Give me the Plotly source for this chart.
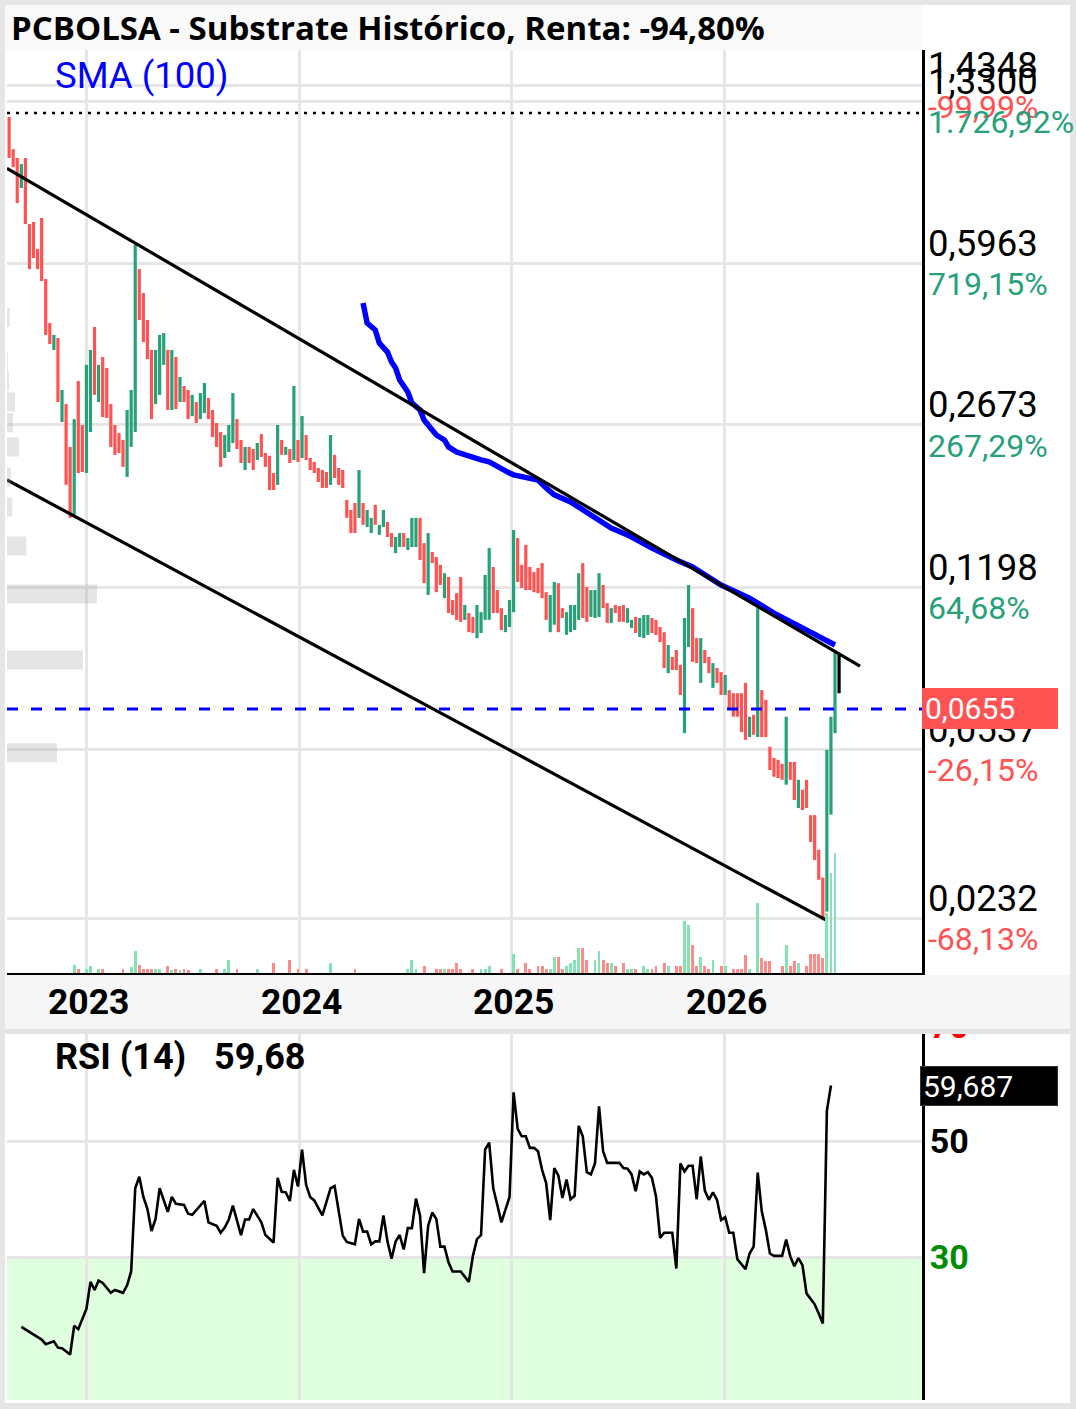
import numpy as np
import pandas as pd
import plotly.graph_objects as go

W, H = 1076, 1409

# ---------------- DATA ----------------
dates = pd.date_range('2022-08-20', periods=205, freq='7D')

high = [1.229, 1.048, 1.003, 0.9733, 1.003, 0.7231, 0.7305, 0.6389, 0.7451, 0.5507,
        0.4429, 0.4176, 0.4112, 0.3179, 0.2965, 0.2398, 0.2752, 0.3323, 0.2673, 0.3600,
        0.3875, 0.4343, 0.3600, 0.3743, 0.3544, 0.2965, 0.2673, 0.2568, 0.2482, 0.2879,
        0.3179, 0.6523, 0.5786, 0.5138, 0.4496, 0.3875, 0.3875, 0.4176, 0.4215, 0.3875,
        0.3875, 0.3743, 0.3391, 0.3243, 0.3179, 0.3103, 0.2995, 0.3131, 0.3290, 0.3055,
        0.2879, 0.2699, 0.2581, 0.2544, 0.2673, 0.3131, 0.2752, 0.2482, 0.2398, 0.2398,
        0.2373, 0.2445, 0.2555, 0.2327, 0.2294, 0.2107, 0.2673, 0.2482, 0.2398, 0.2373,
        0.3243, 0.2482, 0.2795, 0.2544, 0.2270, 0.2226, 0.2160, 0.2139, 0.2118, 0.2544,
        0.2305, 0.2160, 0.2139, 0.1844, 0.1755, 0.1816, 0.2139, 0.1816, 0.1755, 0.1687,
        0.1800, 0.1630, 0.1755, 0.1653, 0.1565, 0.1535, 0.1565, 0.1565, 0.1527, 0.1687,
        0.1687, 0.1687, 0.1489, 0.1565, 0.1425, 0.1390, 0.1337, 0.1283, 0.1259, 0.1123,
        0.1162, 0.1259, 0.1096, 0.1053, 0.1033, 0.1096, 0.1058, 0.1272, 0.1453, 0.1323,
        0.1180, 0.1079, 0.1043, 0.1123, 0.1589, 0.1527, 0.1337, 0.1476, 0.1323, 0.1290,
        0.1317, 0.1349, 0.1168, 0.1152, 0.1228, 0.1221, 0.1079, 0.1058, 0.1096, 0.1096,
        0.1283, 0.1349, 0.1198, 0.1180, 0.1180, 0.1283, 0.1210, 0.1106, 0.1079, 0.1096,
        0.1090, 0.1096, 0.1079, 0.1018, 0.1033, 0.1028, 0.1043, 0.1043, 0.1028, 0.1018,
        0.0983, 0.0958, 0.0899, 0.0847, 0.0877, 0.0815, 0.1028, 0.1210, 0.1079, 0.0930,
        0.0930, 0.0877, 0.0847, 0.0822, 0.0802, 0.0786, 0.0775, 0.0719, 0.0708, 0.0708,
        0.0708, 0.0745, 0.0630, 0.0636, 0.1079, 0.0719, 0.0685, 0.0543, 0.0514, 0.0509,
        0.0499, 0.0630, 0.0504, 0.0504, 0.0461, 0.0439, 0.0461, 0.0387, 0.0387, 0.0326,
        0.0284, 0.0535, 0.0630, 0.0864, 0.0856]

low = [1.003, 0.959, 0.8025, 0.8644, 0.7231, 0.5786, 0.6112, 0.5786, 0.5454, 0.4176,
       0.3991, 0.3875, 0.2995, 0.2713, 0.1987, 0.1687, 0.1713, 0.2107, 0.2118, 0.2107,
       0.2581, 0.3103, 0.2995, 0.2781, 0.2767, 0.2398, 0.2305, 0.2327, 0.2172, 0.2066,
       0.2398, 0.2581, 0.4496, 0.4031, 0.3705, 0.2752, 0.2965, 0.3103, 0.3600, 0.2879,
       0.2879, 0.2892, 0.2995, 0.2995, 0.2752, 0.2795, 0.2699, 0.2752, 0.2836, 0.2752,
       0.2518, 0.2398, 0.2172, 0.2270, 0.2338, 0.2445, 0.2373, 0.2214, 0.2139, 0.2214,
       0.2139, 0.2248, 0.2282, 0.2172, 0.1937, 0.1937, 0.1987, 0.2305, 0.2305, 0.2214,
       0.2248, 0.2226, 0.2270, 0.2248, 0.2139, 0.2107, 0.2016, 0.1957, 0.1957, 0.1987,
       0.2056, 0.1987, 0.1957, 0.1687, 0.1565, 0.1565, 0.1687, 0.1630, 0.1613, 0.1565,
       0.1630, 0.1551, 0.1613, 0.1535, 0.1461, 0.1417, 0.1461, 0.1461, 0.1439, 0.1461,
       0.1461, 0.1370, 0.1221, 0.1152, 0.1349, 0.1168, 0.1210, 0.1134, 0.1053, 0.1043,
       0.1018, 0.1008, 0.1018, 0.0958, 0.0954, 0.0930, 0.0954, 0.1018, 0.1018, 0.1053,
       0.1053, 0.0968, 0.0958, 0.0983, 0.1058, 0.1228, 0.1192, 0.1180, 0.1180, 0.1168,
       0.1162, 0.1134, 0.1018, 0.0958, 0.0994, 0.0958, 0.1028, 0.0945, 0.0958, 0.0968,
       0.1018, 0.1028, 0.1008, 0.1033, 0.1028, 0.1033, 0.1079, 0.1003, 0.1003, 0.1053,
       0.1008, 0.1008, 0.1003, 0.0978, 0.0954, 0.0935, 0.0930, 0.0945, 0.0954, 0.0945,
       0.0912, 0.0802, 0.0782, 0.0794, 0.0794, 0.0702, 0.0581, 0.0890, 0.0827, 0.0822,
       0.0745, 0.0822, 0.0782, 0.0727, 0.0745, 0.0702, 0.0702, 0.0652, 0.0630, 0.0630,
       0.0584, 0.0562, 0.0570, 0.0576, 0.0570, 0.0570, 0.0570, 0.0484, 0.0468, 0.0465,
       0.0461, 0.0450, 0.0461, 0.0417, 0.0401, 0.0397, 0.0401, 0.0339, 0.0310, 0.0281,
       0.0230, 0.0240, 0.0388, 0.0581, 0.0708]

# u = close above open, d = close below open, n = current (unfinished) bar
direction = ("dddudddddd dududduddu ududdddddu uudddduuud ududduduud "
             "ddduuuddud duddddudud ududdddddu dddddduduu duudduuduu "
             "uddudddudd ddudduuuud dduuuddddd ddduudduuu udduuuddud "
             "dduuduuudd dduddduudd uddudduddd ddududdddd dudduddddd "
             "duuun").replace(' ', '')

volume = [0, 0, 0, 0, 0, 0, 0, 0, 0, 0,
          0, 0, 0, 0, 0, 0, 8, 4, 0, 4,
          7, 0, 4, 4, 0, 0, 0, 0, 4, 0,
          6, 22, 8, 4, 4, 4, 4, 4, 0, 7,
          3, 4, 3, 4, 3, 0, 0, 4, 0, 0,
          0, 4, 0, 4, 13, 0, 4, 0, 0, 0,
          0, 4, 0, 0, 0, 10, 0, 0, 0, 13,
          0, 4, 0, 4, 0, 0, 0, 0, 0, 10,
          0, 0, 0, 0, 0, 4, 0, 0, 0, 0,
          0, 0, 0, 0, 0, 0, 0, 0, 4, 13,
          4, 0, 7, 0, 0, 4, 4, 4, 4, 4,
          10, 4, 0, 0, 4, 0, 4, 4, 7, 0,
          0, 4, 0, 0, 19, 4, 0, 10, 4, 0,
          7, 7, 4, 4, 16, 16, 4, 7, 10, 13,
          25, 25, 13, 0, 13, 22, 13, 10, 10, 7,
          0, 10, 4, 4, 4, 0, 7, 4, 4, 7,
          0, 10, 7, 0, 7, 7, 52, 48, 28, 7,
          16, 7, 4, 13, 0, 7, 7, 0, 4, 4,
          4, 18, 4, 0, 70, 15, 12, 12, 0, 0,
          7, 28, 7, 12, 10, 0, 7, 19, 19, 19,
          15, 60, 100, 120, 0]

rsi_week = [3, 6, 8, 9, 11, 12, 13, 15, 16, 17, 19, 20, 21, 22, 23, 25, 26, 28, 29, 30,
            31, 32, 33, 34, 35, 36, 37, 39, 40, 41, 43, 44, 45, 48, 49, 51, 52, 53, 54, 55,
            57, 58, 59, 60, 62, 63, 65, 66, 67, 68, 69, 70, 71, 72, 73, 74, 75, 77, 79, 80,
            81, 82, 83, 85, 86, 87, 88, 89, 90, 91, 92, 93, 94, 95, 96, 97, 98, 99, 100, 101,
            102, 103, 104, 105, 106, 107, 108, 109, 111, 113, 114, 115, 116, 117, 118, 119, 120, 121, 123, 124,
            125, 126, 127, 128, 129, 130, 131, 132, 133, 134, 135, 136, 137, 138, 139, 140, 141, 142, 143, 144,
            145, 146, 147, 150, 151, 152, 153, 154, 155, 156, 157, 158, 159, 160, 161, 163, 164, 165, 166, 167,
            168, 169, 170, 171, 172, 173, 174, 175, 176, 177, 178, 179, 181, 182, 183, 184, 185, 186, 187, 188,
            190, 191, 192, 193, 194, 195, 196, 197, 198, 199, 200, 201, 202]
rsi_value = [17.9, 16.5, 15.7, 14.9, 15.4, 14.3, 14.2, 13.1, 18.1, 17.5, 21.0, 25.7, 24.3, 25.9, 25.5, 23.8, 24.3, 23.8, 25.1, 27.5,
             41.9, 43.9, 40.4, 38.3, 34.5, 36.6, 41.9, 37.8, 40.4, 39.2, 39.0, 37.5, 37.3, 39.7, 36.0, 35.4, 34.2, 35.1, 36.5, 38.9,
             33.8, 36.5, 36.5, 38.3, 36.0, 33.8, 32.5, 43.7, 41.3, 41.2, 39.7, 45.1, 42.2, 48.6, 42.5, 40.4, 39.8, 37.2, 41.9, 42.3,
             38.3, 33.7, 32.6, 32.2, 36.6, 34.4, 34.4, 32.2, 32.7, 32.7, 37.2, 32.7, 29.7, 32.7, 33.8, 31.3, 35.0, 35.0, 40.1, 37.2,
             27.2, 35.4, 37.7, 36.6, 31.8, 31.8, 29.1, 27.5, 27.5, 25.7, 30.2, 33.1, 33.8, 48.6, 49.8, 41.9, 39.0, 36.0, 40.4, 58.5,
             52.2, 50.9, 50.9, 48.9, 48.9, 48.3, 45.1, 42.8, 36.4, 45.4, 44.1, 40.2, 43.4, 40.0, 40.6, 52.7, 50.9, 44.7, 44.3, 46.2,
             56.1, 48.3, 46.3, 46.3, 45.4, 45.3, 44.3, 41.4, 44.8, 44.3, 44.7, 43.7, 40.5, 33.3, 34.2, 34.2, 28.0, 46.2, 44.8, 45.8,
             45.8, 40.0, 47.4, 41.5, 39.9, 41.2, 39.9, 36.4, 36.9, 34.2, 34.2, 29.6, 27.9, 30.6, 31.8, 44.6, 37.9, 34.7, 30.6, 30.2,
             30.2, 33.0, 30.1, 28.4, 29.8, 28.6, 23.7, 22.8, 21.8, 20.2, 18.5, 55.3, 59.7]

sma_week = [87, 88, 90, 91, 93, 94, 95, 96, 98, 99, 101, 102, 104, 105, 107, 108, 110, 112, 114, 116,
            118, 120, 123, 124, 127, 130, 132, 134, 138, 141, 143, 145, 148, 152, 155, 158, 164, 168, 175, 182,
            188, 193, 197, 203]
sma_value = [0.4890, 0.4429, 0.4279, 0.4011, 0.3836, 0.3651, 0.3544, 0.3340, 0.3147, 0.2980,
             0.2879, 0.2740, 0.2607, 0.2544, 0.2482, 0.2398, 0.2338, 0.2305, 0.2270, 0.2248,
             0.2226, 0.2172, 0.2107, 0.2088, 0.2066, 0.2036, 0.1957, 0.1891, 0.1826, 0.1755,
             0.1713, 0.1670, 0.1605, 0.1551, 0.1497, 0.1453, 0.1370, 0.1323, 0.1210, 0.1134,
             0.1053, 0.1003, 0.0958, 0.0899]

profile_price = [0.4553, 0.3657, 0.3323, 0.2995, 0.2704, 0.2398, 0.2066, 0.1781, 0.1468, 0.1157, 0.0835, 0.0527]
profile_volume = [2.6, 0.8, 2.0, 8, 6, 12, 4, 5.3, 19.3, 90, 76, 50]

trend_upper_dates = ['2022-08-16 09:00', '2026-08-23']
trend_upper_prices = [0.953, 0.0810]
trend_lower_dates = ['2022-08-16 09:00', '2026-06-26']
trend_lower_prices = [0.2036, 0.0230]

max_price = 1.2535
last_price = 0.0655
last_rsi = 59.687

price_ticks = [1.4348, 1.3300, 0.5963, 0.2673, 0.1198, 0.0537, 0.0232]
price_tick_text = ['1,4348', '1,3300', '0,5963', '0,2673', '0,1198', '0,0537', '0,0232']
pct_text = ['-99,99%', '1.726,92%', '719,15%', '267,29%', '64,68%', '-26,15%', '-68,13%']
pct_positive = [False, True, True, True, True, False, False]

year_ticks = ['2023-01-01', '2024-01-01', '2025-01-01', '2026-01-01']
year_labels = ['2023', '2024', '2025', '2026']

rsi_ticks = [30, 50, 70]

# ---------------- STYLE ----------------
GREEN = '#26a17a'
RED = '#ff5252'
VOL_GREEN = '#84e2b4'
VOL_RED = '#ff8a8a'
GRID = '#e6e6e6'
FONT = 'Roboto'

PLOT_L, PLOT_R = 7, 922
MAIN_T, MAIN_B = 50, 973
RSI_T, RSI_B = 1026, 1400
X_RANGE = ['2022-08-16 09:00', '2026-12-07 16:00']
Y_RANGE = [-1.75183, 0.23365]
RSI_RANGE = [5.238, 70]
PROFILE_HALF = 1.0482   # half height of a profile bin as a price ratio


def fx(p):
    return p / W


def fy(p):
    return (H - p) / H


fig = go.Figure()

# volume profile (left)
pxs, pys = [], []
for p, v in zip(profile_price, profile_volume):
    lo, hi = p / PROFILE_HALF, p * PROFILE_HALF
    pxs += [0, v, v, 0, 0, None]
    pys += [lo, lo, hi, hi, lo, None]
fig.add_trace(go.Scatter(x=pxs, y=pys, xaxis='x3', yaxis='y', mode='lines', fill='toself',
                         fillcolor='rgba(170,170,170,0.30)', line=dict(width=0), hoverinfo='skip'))

# candles as high-low bars
for code, col in (('u', GREEN), ('d', RED), ('n', 'black')):
    xs, ys = [], []
    for d, h, l, c in zip(dates, high, low, direction):
        if c == code:
            xs += [d, d, None]
            ys += [l, h, None]
    fig.add_trace(go.Scatter(x=xs, y=ys, mode='lines', line=dict(color=col, width=3.2),
                             xaxis='x', yaxis='y', hoverinfo='skip'))

# SMA
fig.add_trace(go.Scatter(x=[dates[i] for i in sma_week], y=sma_value, mode='lines',
                         line=dict(color='#0000ff', width=5.5), xaxis='x', yaxis='y', hoverinfo='skip'))

# trend lines
fig.add_trace(go.Scatter(x=trend_upper_dates, y=trend_upper_prices, mode='lines',
                         line=dict(color='black', width=3.2), xaxis='x', yaxis='y', hoverinfo='skip'))
fig.add_trace(go.Scatter(x=trend_lower_dates, y=trend_lower_prices, mode='lines',
                         line=dict(color='black', width=3.2), xaxis='x', yaxis='y', hoverinfo='skip'))

# max price dotted / last price dashed
fig.add_trace(go.Scatter(x=X_RANGE, y=[max_price, max_price], mode='lines',
                         line=dict(color='black', width=2.7, dash='3px,6px'), xaxis='x', yaxis='y', hoverinfo='skip'))
fig.add_trace(go.Scatter(x=X_RANGE, y=[last_price, last_price], mode='lines',
                         line=dict(color='#0000ff', width=3, dash='11px,13px'), xaxis='x', yaxis='y', hoverinfo='skip'))

# volume
vol_colors = [VOL_GREEN if c == 'u' else (VOL_RED if c == 'd' else '#cccccc') for c in direction]
fig.add_trace(go.Bar(x=dates, y=volume, marker=dict(color=vol_colors, line=dict(width=0)),
                     width=7 * 86400000 * 0.7, xaxis='x', yaxis='y3', hoverinfo='skip'))

# RSI
fig.add_trace(go.Scatter(x=[dates[i] for i in rsi_week], y=rsi_value, mode='lines',
                         line=dict(color='black', width=2.6), xaxis='x2', yaxis='y2', hoverinfo='skip'))

shapes = [
    # RSI oversold zone
    dict(type='rect', xref='x2 domain', yref='y2', x0=0, x1=1, y0=RSI_RANGE[0], y1=30,
         fillcolor='#dfffdf', line=dict(width=0), layer='below'),
    # title band
    dict(type='rect', xref='paper', yref='paper', x0=fx(5), x1=fx(PLOT_R), y0=fy(50), y1=fy(5),
         fillcolor='#f9f9f9', line=dict(width=0), layer='below'),
    # x-axis label band and separator
    dict(type='rect', xref='paper', yref='paper', x0=fx(5), x1=fx(1070), y0=fy(1029), y1=fy(975),
         fillcolor='#f6f6f6', line=dict(width=0), layer='above'),
    dict(type='rect', xref='paper', yref='paper', x0=fx(5), x1=fx(1070), y0=fy(1034), y1=fy(1029),
         fillcolor='#e4e4e4', line=dict(width=0), layer='above'),
    # outer frame
    dict(type='rect', xref='paper', yref='paper', x0=0, x1=fx(5), y0=0, y1=1,
         fillcolor='#e6e6e6', line=dict(width=0), layer='above'),
    dict(type='rect', xref='paper', yref='paper', x0=fx(1070), x1=1, y0=0, y1=1,
         fillcolor='#e6e6e6', line=dict(width=0), layer='above'),
    dict(type='rect', xref='paper', yref='paper', x0=0, x1=1, y0=fy(5), y1=1,
         fillcolor='#e6e6e6', line=dict(width=0), layer='above'),
    dict(type='rect', xref='paper', yref='paper', x0=0, x1=1, y0=0, y1=fy(1403),
         fillcolor='#e6e6e6', line=dict(width=0), layer='above'),
]

ann = []
ann.append(dict(text='PCBOLSA - Substrate Histórico, Renta: -94,80%', xref='paper', yref='paper',
                x=fx(9), y=fy(28), xanchor='left', yanchor='middle', showarrow=False,
                font=dict(family='Open Sans', size=33, color='black', weight='bold')))
ann.append(dict(text='SMA (100)', xref='paper', yref='paper', x=fx(53), y=fy(75),
                xanchor='left', yanchor='middle', showarrow=False,
                font=dict(family=FONT, size=36.5, color='#0000ff')))
ann.append(dict(text='RSI (14)', xref='paper', yref='paper', x=fx(53), y=fy(1057),
                xanchor='left', yanchor='middle', showarrow=False,
                font=dict(family=FONT, size=36, color='black', weight='bold')))
ann.append(dict(text='59,68', xref='paper', yref='paper', x=fx(212), y=fy(1057),
                xanchor='left', yanchor='middle', showarrow=False,
                font=dict(family=FONT, size=36, color='black', weight='bold')))
for t, lab in zip(year_ticks, year_labels):
    ann.append(dict(text=lab, xref='x', yref='paper', x=t, y=fy(1002), xanchor='center',
                    yanchor='middle', showarrow=False, xshift=2,
                    font=dict(family=FONT, size=35.5, color='black', weight='bold')))
for v, t, pt, pos in zip(price_ticks, price_tick_text, pct_text, pct_positive):
    ann.append(dict(text=t, xref='paper', yref='y', x=fx(926), y=np.log10(v), yshift=20,
                    xanchor='left', yanchor='middle', showarrow=False,
                    font=dict(family=FONT, size=36.5, color='black')))
    ann.append(dict(text=pt, xref='paper', yref='y', x=fx(926), y=np.log10(v), yshift=-21,
                    xanchor='left', yanchor='middle', showarrow=False,
                    font=dict(family=FONT, size=32, color=GREEN if pos else RED)))
ann.append(dict(text='0,0655', xref='paper', yref='y', x=fx(922), y=np.log10(last_price),
                xanchor='left', yanchor='middle', showarrow=False, align='left',
                width=130, height=35, borderpad=2, borderwidth=1, bordercolor=RED, bgcolor=RED,
                font=dict(family=FONT, size=30, color='white')))
ann.append(dict(text='59,687', xref='paper', yref='y2', x=fx(920), y=last_rsi,
                xanchor='left', yanchor='middle', showarrow=False, align='left',
                width=132, height=34, borderpad=2, borderwidth=1, bordercolor='#333333', bgcolor='black',
                font=dict(family=FONT, size=30, color='white')))

rsi_ticktext = ["<span style='color:#008c00'><b>30</b></span>", "<b>50</b>",
                "<span style='color:#ff0000'><b>70</b></span>"]

fig.update_layout(
    width=W, height=H, autosize=False,
    margin=dict(l=0, r=0, t=0, b=0, pad=0, autoexpand=False),
    paper_bgcolor='white', plot_bgcolor='white',
    showlegend=False, hovermode=False,
    bargap=0,
    shapes=shapes, annotations=ann,
    xaxis=dict(domain=[fx(PLOT_L), fx(PLOT_R)], anchor='y', type='date', range=X_RANGE,
               tickvals=year_ticks, showticklabels=False, ticks='', automargin=False,
               showgrid=True, gridcolor=GRID, gridwidth=3, zeroline=False,
               showline=True, linecolor='black', linewidth=3),
    yaxis=dict(domain=[fy(MAIN_B), fy(MAIN_T)], anchor='x', type='log', range=Y_RANGE,
               side='right', tickvals=price_ticks, showticklabels=False, ticks='', automargin=False,
               showgrid=True, gridcolor=GRID, gridwidth=3, zeroline=False,
               showline=True, linecolor='black', linewidth=3),
    yaxis3=dict(overlaying='y', anchor='x', range=[0, MAIN_B - MAIN_T], visible=False,
                showgrid=False, zeroline=False, automargin=False),
    xaxis3=dict(overlaying='x', anchor='y', range=[0, PLOT_R - PLOT_L], visible=False,
                showgrid=False, zeroline=False, automargin=False),
    xaxis2=dict(domain=[fx(PLOT_L), fx(PLOT_R)], anchor='y2', type='date', range=X_RANGE,
                tickvals=year_ticks, showticklabels=False, ticks='', automargin=False,
                showgrid=True, gridcolor=GRID, gridwidth=3, zeroline=False, showline=False),
    yaxis2=dict(domain=[fy(RSI_B), fy(RSI_T)], anchor='x2', range=RSI_RANGE, side='right',
                tickvals=rsi_ticks, ticktext=rsi_ticktext, ticks='', ticklabelstandoff=-2,
                automargin=False,
                tickfont=dict(family=FONT, size=34, color='black'),
                showgrid=True, gridcolor=GRID, gridwidth=3, zeroline=False,
                showline=True, linecolor='black', linewidth=3),
)

fig.write_html('out.html')
